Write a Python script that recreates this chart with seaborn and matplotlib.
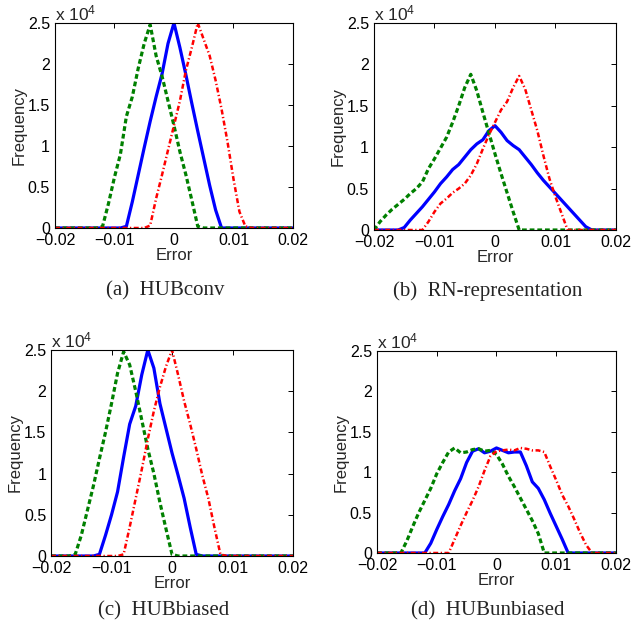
"""Error histograms for four rounding schemes (2x2 panels)."""
import matplotlib
matplotlib.use("Agg")
import matplotlib.pyplot as plt
import numpy as np
import pandas as pd
import seaborn as sns

# bin centres of the error histogram, -0.020 ... 0.020 in steps of 0.001
ERROR_BINS = np.round(np.linspace(-0.02, 0.02, 41), 3)

# frequencies, in units of 10^4
A_BLUE = [0] * 12 + [0.02, 0.32, 0.65, 0.98, 1.3, 1.6, 1.88, 2.25, 2.5,
                     2.2, 1.87, 1.52, 1.18, 0.85, 0.52, 0.22, 0.0] + [0] * 12
A_GREEN = [0] * 8 + [0.02, 0.3, 0.62, 0.9, 1.36, 1.6, 1.95, 2.25, 2.48,
                     2.1, 1.85, 1.55, 1.25, 0.93, 0.65, 0.34, 0.02] + [0] * 16
A_RED = [0] * 16 + [0.03, 0.36, 0.65, 0.95, 1.25, 1.55, 1.92, 2.2, 2.5,
                    2.3, 2.1, 1.8, 1.45, 1.05, 0.6, 0.2, 0.02] + [0] * 8

B_BLUE = [0] * 4 + [0, 0.03, 0.12, 0.2, 0.28, 0.37, 0.46, 0.56, 0.64, 0.73, 0.79,
                    0.88, 0.97, 1.04, 1.09, 1.2, 1.26, 1.18, 1.08, 1.02, 0.97, 0.88,
                    0.79, 0.69, 0.6, 0.52, 0.44, 0.36, 0.28, 0.2, 0.12, 0.04, 0] + [0] * 4
B_GREEN = [0, 0.1, 0.18, 0.25, 0.31, 0.37, 0.44, 0.5, 0.58, 0.74, 0.86, 0.99, 1.12,
           1.3, 1.5, 1.72, 1.88, 1.68, 1.42, 1.17, 0.92, 0.68, 0.45, 0.22, 0.0] + [0] * 16
B_RED = [0] * 8 + [0, 0.1, 0.22, 0.32, 0.38, 0.45, 0.5, 0.56, 0.66, 0.8, 0.98, 1.15,
                   1.3, 1.45, 1.55, 1.72, 1.86, 1.7, 1.45, 1.2, 0.9, 0.62, 0.4, 0.2, 0] + [0] * 8

C_BLUE = [0] * 8 + [0.02, 0.25, 0.5, 0.78, 1.2, 1.6, 1.82, 2.2, 2.5,
                    2.28, 1.85, 1.55, 1.25, 0.98, 0.7, 0.35, 0.02] + [0] * 16
C_GREEN = [0] * 4 + [0.02, 0.25, 0.55, 0.85, 1.18, 1.5, 1.85, 2.22, 2.48,
                     2.32, 2.0, 1.65, 1.3, 1.0, 0.65, 0.33, 0.02] + [0] * 20
C_RED = [0] * 12 + [0.02, 0.35, 0.7, 1.05, 1.42, 1.76, 2.05, 2.3, 2.5,
                    2.2, 1.88, 1.6, 1.3, 0.98, 0.7, 0.35, 0.02] + [0] * 12

D_BLUE = [0] * 8 + [0, 0.12, 0.29, 0.45, 0.6, 0.77, 0.92, 1.12, 1.26, 1.29, 1.24, 1.26,
                    1.3, 1.27, 1.24, 1.25, 1.25, 1.08, 0.88, 0.8, 0.66, 0.49, 0.33, 0.17, 0] + [0] * 8
D_GREEN = [0] * 4 + [0, 0.15, 0.33, 0.5, 0.65, 0.8, 0.98, 1.12, 1.25, 1.3, 1.24, 1.25, 1.28,
                     1.29, 1.26, 1.27, 1.22, 1.1, 0.95, 0.82, 0.68, 0.54, 0.4, 0.24, 0] + [0] * 12
D_RED = [0] * 12 + [0, 0.17, 0.34, 0.5, 0.65, 0.82, 1.02, 1.2, 1.26, 1.27, 1.28, 1.27, 1.3,
                    1.29, 1.27, 1.27, 1.25, 1.07, 0.9, 0.72, 0.58, 0.42, 0.25, 0.1, 0] + [0] * 4

CAPTIONS = ["(a)  HUBconv", "(b)  RN-representation", "(c)  HUBbiased", "(d)  HUBunbiased"]
X_TICKS = [-0.02, -0.01, 0, 0.01, 0.02]
X_TICK_LABELS = ["\u22120.02", "\u22120.01", "0", "0.01", "0.02"]
Y_TICKS = [0, 0.5, 1, 1.5, 2, 2.5]
Y_TICK_LABELS = ["0", "0.5", "1", "1.5", "2", "2.5"]

PANELS = [
    (A_BLUE, A_GREEN, A_RED),
    (B_BLUE, B_GREEN, B_RED),
    (C_BLUE, C_GREEN, C_RED),
    (D_BLUE, D_GREEN, D_RED),
]

# axes rectangles in figure fractions (left, bottom, width, height)
AXES_POS = [
    [0.0863, 0.6352, 0.3736, 0.3280],
    [0.5871, 0.6320, 0.3799, 0.3312],
    [0.0801, 0.1104, 0.3799, 0.3296],
    [0.5918, 0.1152, 0.3752, 0.3232],
]
CAPTION_POS = [(0.259, 0.534), (0.766, 0.534), (0.257, 0.023), (0.766, 0.023)]

sns.set_style("white")
plt.rcParams["font.family"] = ["Liberation Sans", "DejaVu Sans"]
plt.rcParams["mathtext.fontset"] = "custom"
plt.rcParams["mathtext.rm"] = "Liberation Sans"
plt.rcParams["mathtext.it"] = "Liberation Sans:italic"

fig = plt.figure(figsize=(6.37, 6.25), dpi=100)

for pos, series, caption, cpos in zip(AXES_POS, PANELS, CAPTIONS, CAPTION_POS):
    ax = fig.add_axes(pos)
    blue, green, red = series
    df = pd.DataFrame({"err": ERROR_BINS, "blue": blue, "green": green, "red": red})

    sns.lineplot(data=df, x="err", y="blue", ax=ax, color="#0000ff", lw=2.3)
    sns.lineplot(data=df, x="err", y="green", ax=ax, color="#008000", lw=2.3)
    ax.lines[-1].set_dashes([1.5, 0.9])
    sns.lineplot(data=df, x="err", y="red", ax=ax, color="#ff0000", lw=1.8)
    ax.lines[-1].set_dashes([2.0, 1.0, 0.5, 1.0])

    ax.set_xlim(-0.02, 0.02)
    ax.set_ylim(0, 2.5)
    ax.set_xticks(X_TICKS)
    ax.set_xticklabels(X_TICK_LABELS)
    ax.set_yticks(Y_TICKS)
    ax.set_yticklabels(Y_TICK_LABELS)
    ax.tick_params(direction="in", top=True, right=True, length=3.5, width=0.7,
                   labelsize=11.5, pad=3.5, colors="black")
    for sp in ax.spines.values():
        sp.set_visible(True)
        sp.set_color("black")
        sp.set_linewidth(0.8)

    ax.set_xlabel("Error", fontsize=12, labelpad=0)
    ax.set_ylabel("Frequency", fontsize=12, labelpad=1)
    ax.text(0.0, 1.0, r"x 10$^{4}$", transform=ax.transAxes, ha="left",
            va="bottom", fontsize=12.5)

    fig.text(cpos[0], cpos[1], caption, ha="center", va="center",
             fontsize=15, family=["Liberation Serif", "DejaVu Serif"])

fig.savefig("out.png", dpi=100)
plt.close(fig)
